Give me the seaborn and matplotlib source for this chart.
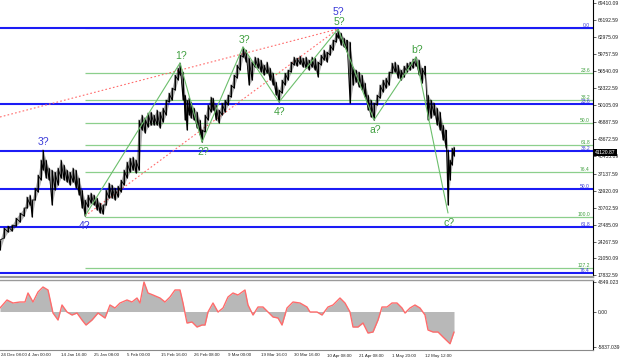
import numpy as np
import pandas as pd
import matplotlib
matplotlib.use("Agg")
import matplotlib.pyplot as plt
import matplotlib.transforms as mtransforms
import seaborn as sns

# ---------------- data ----------------
bar_t = [0, 4, 8, 12, 16, 20, 24, 27, 30, 32, 35, 38, 41, 43, 46, 49, 52, 55, 58, 61, 64, 67, 70, 73, 76, 79,
         82, 85, 88, 91, 94, 97, 100, 103, 106, 109, 112, 115, 118, 121, 124, 127, 130, 133, 136, 139, 142,
         145, 148, 151, 154, 157, 160, 163, 166, 169, 172, 175, 178, 180, 183, 185, 187, 189, 191, 194, 197,
         200, 202, 205, 208, 211, 213, 216, 219, 222, 225, 228, 231, 234, 237, 240, 243, 246, 249, 252, 255,
         258, 261, 264, 267, 270, 273, 276, 279, 282, 285, 288, 291, 294, 297, 300, 303, 306, 309, 312, 315,
         318, 321, 324, 327, 330, 333, 336, 338, 341, 344, 347, 350, 353, 356, 359, 362, 365, 368, 371, 374,
         377, 380, 383, 386, 389, 392, 395, 398, 401, 404, 407, 410, 413, 416, 419, 422, 425, 428, 431, 434,
         437, 440, 443, 446, 448, 450, 452, 454]
bar_high = [24555, 26829, 27208, 27397, 28724, 29672, 30619, 32704, 33083, 32135, 34409, 36873, 39715, 41610,
            39715, 38199, 37820, 37441, 38199, 39715, 38768, 37820, 37441, 38199, 37820, 36304, 34030, 32135,
            33083, 33462, 33083, 32514, 31567, 31188, 34030, 35357, 34978, 34409, 34788, 35925, 37820, 39336,
            40094, 40284, 39715, 47295, 48243, 47674, 48622, 48811, 48243, 49190, 48811, 49569, 51085, 52412,
            53359, 55823, 57149, 58097, 56391, 52033, 51085, 51464, 50706, 49569, 48811, 47295, 45400, 48243,
            50138, 51654, 51464, 50138, 49190, 50517, 51085, 52033, 53928, 55823, 57718, 59613, 61129, 60560,
            59044, 58286, 59234, 59044, 58665, 57718, 58286, 57149, 56202, 54496, 52980, 54875, 56202, 56770,
            58286, 59234, 59044, 59423, 59044, 59234, 58665, 59234, 59044, 58286, 59613, 60560, 60181, 61508,
            62455, 63780, 64540, 63780, 62834, 62455, 62076, 57339, 56770, 56391, 55823, 54307, 52033, 51085,
            50517, 52033, 53928, 54875, 55254, 56391, 58097, 58286, 57718, 56770, 57528, 58097, 58286, 58855,
            59234, 58665, 57149, 57528, 52033, 51085, 50517, 49569, 48811, 46348, 45400, 41610, 39715, 41989,
            42182]
bar_low = [22660, 24934, 26071, 26260, 27208, 27966, 29103, 30619, 31188, 28914, 32135, 33651, 35925, 37820,
           36304, 35925, 31188, 34030, 34978, 36304, 35925, 35546, 34978, 35546, 34409, 33083, 30619, 29103,
           30809, 31567, 31188, 30240, 29672, 29482, 31188, 32514, 32514, 32135, 32704, 33651, 34978, 36304,
           37441, 37820, 37252, 37820, 45400, 44832, 45969, 46348, 46348, 46348, 45779, 46916, 48243, 50706,
           51085, 52980, 54875, 55823, 51085, 47295, 45400, 48243, 47674, 47295, 45779, 44453, 43126, 45021,
           47295, 48811, 49190, 47295, 46727, 48243, 48811, 50138, 51654, 53359, 55254, 56770, 59234, 58286,
           53928, 54875, 57339, 57149, 56391, 55823, 56202, 54875, 53928, 52033, 50706, 52412, 53928, 54875,
           56391, 57718, 57528, 57907, 57339, 57149, 56770, 57339, 56770, 55444, 57718, 58665, 58286, 59613,
           60560, 62076, 62834, 61508, 61129, 60181, 50517, 53928, 54496, 53549, 52980, 51654, 49190, 47864,
           47295, 50138, 51464, 52601, 53359, 53928, 56202, 56391, 55254, 54875, 55444, 56391, 56770, 57149,
           57528, 55823, 54307, 55823, 47295, 47674, 48243, 46348, 45400, 43505, 41989, 31188, 35925, 38768,
           40473]
last_price = 41120.87

# Elliott wave points (zigzag)
wave_t = [85, 180, 202, 243, 279, 338, 374, 416, 448]
wave_price = [29103, 58097, 43126, 61129, 50706, 64540, 47295, 59234, 29672]
green_names = ["1?", "2?", "3?", "4?", "5?", "a?", "b?", "c?"]
blue_names = ["3?", "4?", "5?"]
blue_t = [43, 85, 338]
blue_price = [41610, 29103, 64540]

# dotted trend lines (start points, both end at the 5? top)
trend_t = [0, 85]
trend_price = [47864, 29103]

# Fibonacci grids
fib_top = 64730
fib_blue_base = 3850
fib_green_base = 28900
green_start_t = 85
blue_levels = [0.0, 23.6, 38.2, 50.0, 61.8, 76.4]
green_levels = [0.0, 23.6, 38.2, 50.0, 61.8, 76.4, 100.0, 127.2]

# oscillator
ind_t = [0, 7, 13, 20, 25, 28, 33, 38, 43, 48, 53, 58, 62, 67, 72, 77, 82, 86, 92, 98, 105, 110, 115, 120,
         127, 132, 137, 140, 144, 148, 153, 160, 165, 170, 175, 180, 183, 187, 192, 197, 202, 205, 208, 213,
         218, 223, 228, 233, 238, 245, 248, 253, 258, 263, 268, 273, 278, 282, 287, 293, 300, 307, 310, 317,
         322, 328, 333, 340, 345, 350, 353, 358, 363, 368, 373, 378, 382, 387, 392, 397, 402, 405, 410, 415,
         420, 425, 428, 433, 438, 443, 450, 454]
ind_v = [575, 1891, 1397, 1562, 1562, 3041, 1562, 3206, 4028, 3535, -247, -1397, 1069, -82, -575, -247,
         -1397, -2219, -1397, -247, -1069, 1069, 575, 1397, 1891, 1562, 2219, 1397, 4849, 3041, 2713, 2219,
         1562, 2384, 3535, 3535, 1397, -1891, -1726, -2548, -2219, -2219, -82, 1397, -82, 575, 2384, 3041,
         2713, 3535, 1069, -575, 740, 740, -82, -904, -1069, -2219, 575, 1562, 1397, 740, -82, -82, -575,
         740, 1069, 2219, 1397, -82, -2548, -2548, -1891, -3535, -3370, -1397, 740, 740, 1397, 1397, 575,
         -247, 575, 1069, 575, -575, -3041, -3370, -3370, -4192, -5300, -3370]

price_ticks = [69410.09, 66192.59, 62975.09, 59757.59, 56540.09, 53322.59, 50105.09, 46887.59, 43672.59,
               40455.09, 37137.59, 33920.09, 30702.59, 27485.09, 24267.59, 21050.09, 17832.59]
ind_ticks = [4849.023, 0.0, -5837.039]
ind_tick_labels = ["4849.023", "0.00", "-5837.039"]
time_labels = ["24 Dec 08:00", "4 Jan 00:00", "14 Jan 16:00", "25 Jan 08:00", "5 Feb 00:00", "15 Feb 16:00",
               "26 Feb 08:00", "9 Mar 00:00", "19 Mar 16:00", "30 Mar 16:00", "10 Apr 08:00", "21 Apr 08:00",
               "1 May 20:00", "12 May 12:00"]
time_t = [0, 27, 60, 93, 126, 160, 193, 227, 260, 293, 326, 358, 391, 424]

# ---------------- style ----------------
sns.set_style("white")
plt.rcParams['font.family'] = ['Liberation Sans', 'DejaVu Sans']

BLUE = "#1c1cf5"
BLUE_TXT = "#3a3ad8"
GREEN_LINE = "#8ccf8c"
GREEN_ZZ = "#6cbf6c"
GREEN_TXT = "#3f9f3f"
RED = "#ff6b6b"

W, H = 620, 361
fig = plt.figure(figsize=(W / 100, H / 100), dpi=100)
ax = fig.add_axes([0, 1 - 277 / H, 593 / W, 277 / H])
ax2 = fig.add_axes([0, 1 - 350 / H, 593 / W, 70 / H])

XMAX = 593
ax.set_xlim(0, XMAX)
ax.set_ylim(17543, 70035)
ax2.set_xlim(0, XMAX)
ax2.set_ylim(-6329, 5179)

# Fibonacci lines
for lvl in green_levels:
    p = fib_top - lvl / 100 * (fib_top - fib_green_base)
    ax.hlines(p, green_start_t, XMAX, color=GREEN_LINE, lw=0.9, zorder=1)
    if lvl > 0:
        ax.text(XMAX - 3, p, f"{lvl:.1f}", color=GREEN_TXT, fontsize=3.6, ha="right", va="bottom", zorder=4)
for lvl in blue_levels:
    p = fib_top - lvl / 100 * (fib_top - fib_blue_base)
    ax.hlines(p, 0, XMAX, color=BLUE, lw=1.5, zorder=1.2)
    ax.text(XMAX - 3, p, f"{lvl:.1f}", color=BLUE_TXT, fontsize=3.6, ha="right", va="bottom", zorder=4)

# dotted trend lines
for t0, p0 in zip(trend_t, trend_price):
    ax.plot([t0, wave_t[5]], [p0, wave_price[5]], color=RED, lw=0.8, ls=(0, (1.5, 2)), zorder=1.5)

# price bars
ax.fill_between(bar_t, bar_low, bar_high, color="black", alpha=0.3, lw=0, zorder=2)
ax.vlines(bar_t, bar_low, bar_high, color="black", lw=0.8, zorder=2.1)
zz = pd.DataFrame({
    "t": np.repeat(bar_t, 2),
    "p": np.ravel(np.column_stack([bar_low, bar_high])),
})
sns.lineplot(data=zz, x="t", y="p", ax=ax, color="black", lw=0.6, estimator=None, sort=False, zorder=2.2)

# wave zigzag
wdf = pd.DataFrame({"t": wave_t, "p": wave_price})
sns.lineplot(data=wdf, x="t", y="p", ax=ax, color=GREEN_ZZ, lw=0.8, estimator=None, sort=False, zorder=2.5)

for i, name in enumerate(green_names, start=1):
    high = wave_price[i] > wave_price[i - 1]
    ax.annotate(name, (wave_t[i], wave_price[i]), xytext=(1, 2 if high else -5),
                textcoords="offset pixels", ha="center", va="bottom" if high else "top",
                color=GREEN_TXT, fontsize=7.5, zorder=5)
for j, name in enumerate(blue_names):
    high = j != 1
    extra = 9 if blue_t[j] in wave_t and high else 0
    ax.annotate(name, (blue_t[j], blue_price[j]), xytext=(0, (3 + extra) if high else -5),
                textcoords="offset pixels", ha="center", va="bottom" if high else "top",
                color=BLUE_TXT, fontsize=7.5, zorder=5)

# axes cosmetics - main
ax.set_xlabel("")
ax.set_ylabel("")
ax.set_xticks([])
ax.yaxis.tick_right()
ax.set_yticks(price_ticks)
ax.set_yticklabels([f"{v:.2f}" for v in price_ticks])
ax.tick_params(axis="y", labelsize=3.6, length=2, width=0.5, pad=1.5, colors="#222222")
for s in ["left", "top"]:
    ax.spines[s].set_visible(False)
ax.spines["right"].set_color("black")
ax.spines["right"].set_linewidth(0.8)
ax.spines["bottom"].set_color("#9a9a9a")
ax.spines["bottom"].set_linewidth(1.6)

ax.text(1.004, last_price, f"{last_price:.2f}", transform=mtransforms.blended_transform_factory(ax.transAxes, ax.transData),
        color="white", fontsize=3.6, ha="left", va="center", zorder=10,
        bbox=dict(boxstyle="square,pad=0.25", fc="black", ec="none"))

# oscillator
ax2.fill_between(ind_t, 0, ind_v, color="#b8b8b8", lw=0, zorder=1)
sns.lineplot(x=ind_t, y=ind_v, ax=ax2, color=RED, lw=1.0, zorder=2)
ax2.set_xlabel("")
ax2.set_ylabel("")
ax2.yaxis.tick_right()
ax2.set_yticks(ind_ticks)
ax2.set_yticklabels(ind_tick_labels)
ax2.tick_params(axis="y", labelsize=3.6, length=2, width=0.5, pad=1.5, colors="#222222")
ax2.set_xticks([v for v in time_t if v > 0])
ax2.set_xticklabels([])
ax2.tick_params(axis="x", length=2, width=0.5, colors="#444444")
ax2.spines["left"].set_visible(False)
ax2.spines["top"].set_color("#9a9a9a")
ax2.spines["top"].set_linewidth(1.0)
ax2.spines["bottom"].set_color("#8a8a8a")
ax2.spines["bottom"].set_linewidth(0.8)
ax2.spines["right"].set_color("black")
ax2.spines["right"].set_linewidth(0.8)

trans = mtransforms.blended_transform_factory(ax2.transData, fig.transFigure)
for t, lab in zip(time_t, time_labels):
    ax2.text(t + 1, 1 - 355.5 / H, lab, transform=trans, fontsize=3.2, ha="left", va="center",
             color="#222222", clip_on=False)

fig.savefig("out.png", dpi=100, facecolor="white")
